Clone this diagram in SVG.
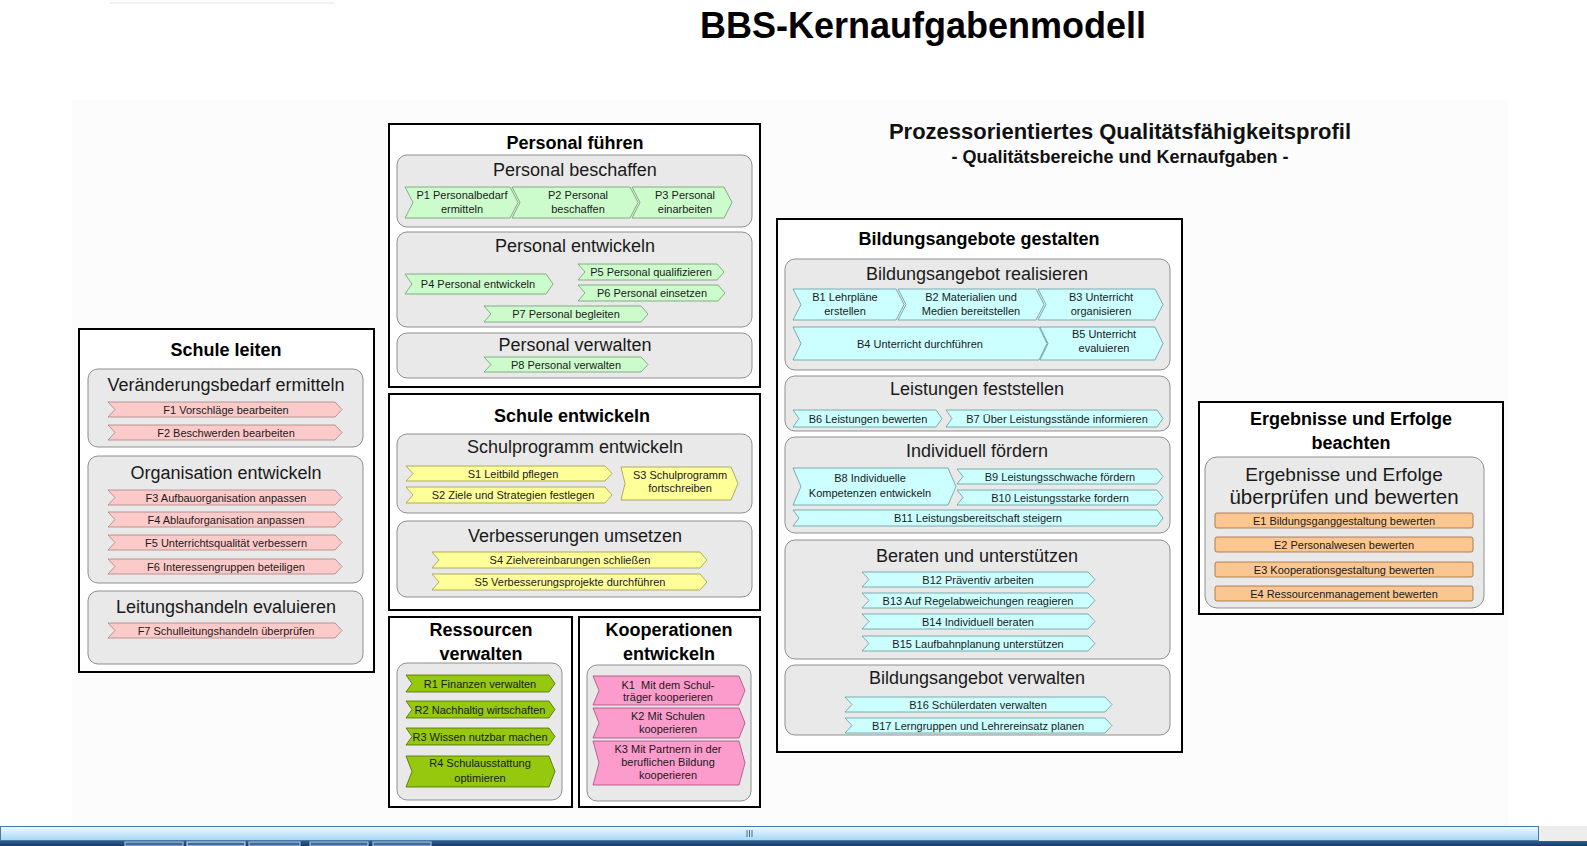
<svg xmlns="http://www.w3.org/2000/svg" width="1587" height="846" viewBox="0 0 1587 846">
<defs>
<style>
text{font-family:"Liberation Sans",Arial,sans-serif}
.ob{fill:#fff;stroke:#000;stroke-width:2}
.ib{fill:#e9e9e9;stroke:#8f8f8f;stroke-width:1}
.ot{font-size:18px;font-weight:bold;fill:#000;text-anchor:middle}
.it{font-size:18px;fill:#1a1a1a;text-anchor:middle}
.ct{font-size:11px;fill:#1a1a1a;text-anchor:middle}
.cF{fill:#fdcaca;stroke:#a88080;stroke-width:0.8}
.cP{fill:#ccfccc;stroke:#6f9a6f;stroke-width:0.8}
.cS{fill:#ffff99;stroke:#9a9a4a;stroke-width:0.8}
.cR{fill:#96c80e;stroke:#4d6b00;stroke-width:0.8}
.cK{fill:#fc9ccc;stroke:#a04c7c;stroke-width:0.8}
.cB{fill:#ccffff;stroke:#5f9a9c;stroke-width:0.8}
.cE{fill:#fbc690;stroke:#9c6a3a;stroke-width:0.8}
</style>
<linearGradient id="sb" x1="0" y1="0" x2="0" y2="1">
<stop offset="0" stop-color="#eef8fe"/>
<stop offset="0.5" stop-color="#cbe8fa"/>
<stop offset="1" stop-color="#a6d6f3"/>
</linearGradient>
<linearGradient id="tb" x1="0" y1="0" x2="0" y2="1">
<stop offset="0" stop-color="#2f5f92"/>
<stop offset="1" stop-color="#173a63"/>
</linearGradient>
</defs>

<rect x="0" y="0" width="1587" height="846" fill="#fff"/>
<rect x="72" y="100" width="1436" height="726" fill="#fcfcfc"/>
<line x1="110" y1="3" x2="335" y2="3" stroke="#e2e2e2" stroke-width="1"/>

<g id="title">
<text x="923" y="38" style="font-size:36px;font-weight:bold;text-anchor:middle;fill:#000">BBS-Kernaufgabenmodell</text>
<text x="1120" y="139" style="font-size:22px;font-weight:bold;text-anchor:middle;fill:#111">Prozessorientiertes Qualitätsfähigkeitsprofil</text>
<text x="1120" y="163" style="font-size:18px;font-weight:bold;text-anchor:middle;fill:#111">- Qualitätsbereiche und Kernaufgaben -</text>
</g>

<g id="connectors"></g>

<!-- Schule leiten -->
<g id="schule-leiten">
<rect class="ob" x="79" y="329" width="295" height="343"/>
<text class="ot" x="226" y="356">Schule leiten</text>
<g id="veraenderungsbedarf">
<rect class="ib" x="88" y="369" width="275" height="78" rx="10"/>
<text class="it" x="226" y="391">Veränderungsbedarf ermitteln</text>
<g id="F1"><polygon class="cF" points="108,402 335,402 342,409.5 335,417 108,417 115,409.5"/><text class="ct" x="226" y="413.5">F1 Vorschläge bearbeiten</text></g>
<g id="F2"><polygon class="cF" points="108,425 335,425 342,432.5 335,440 108,440 115,432.5"/><text class="ct" x="226" y="436.5">F2 Beschwerden bearbeiten</text></g>
</g>
<g id="organisation">
<rect class="ib" x="88" y="456" width="275" height="127" rx="10"/>
<text class="it" x="226" y="479">Organisation entwickeln</text>
<g id="F3"><polygon class="cF" points="108,490 335,490 342,497.5 335,505 108,505 115,497.5"/><text class="ct" x="226" y="501.5">F3 Aufbauorganisation anpassen</text></g>
<g id="F4"><polygon class="cF" points="108,512 335,512 342,519.5 335,527 108,527 115,519.5"/><text class="ct" x="226" y="523.5">F4 Ablauforganisation anpassen</text></g>
<g id="F5"><polygon class="cF" points="108,535 335,535 342,542.5 335,550 108,550 115,542.5"/><text class="ct" x="226" y="546.5">F5 Unterrichtsqualität verbessern</text></g>
<g id="F6"><polygon class="cF" points="108,559 335,559 342,566.5 335,574 108,574 115,566.5"/><text class="ct" x="226" y="570.5">F6 Interessengruppen beteiligen</text></g>
</g>
<g id="leitungshandeln">
<rect class="ib" x="88" y="591" width="275" height="73" rx="10"/>
<text class="it" x="226" y="613">Leitungshandeln evaluieren</text>
<g id="F7"><polygon class="cF" points="108,623 335,623 342,630.5 335,638 108,638 115,630.5"/><text class="ct" x="226" y="634.5">F7 Schulleitungshandeln überprüfen</text></g>
</g>
</g>

<!-- Personal führen -->
<g id="personal-fuehren">
<rect class="ob" x="389" y="124" width="371" height="263"/>
<text class="ot" x="575" y="149">Personal führen</text>
<g id="personal-beschaffen">
<rect class="ib" x="397" y="155" width="355" height="72" rx="10"/>
<text class="it" x="575" y="176">Personal beschaffen</text>
<g id="P1"><polygon class="cP" points="405,187 510,187 518,202.5 510,218 405,218 413,202.5"/><text class="ct" x="462" y="199">P1 Personalbedarf</text><text class="ct" x="462" y="213">ermitteln</text></g>
<g id="P2"><polygon class="cP" points="512,187 630,187 638,202.5 630,218 512,218 520,202.5"/><text class="ct" x="578" y="199">P2 Personal</text><text class="ct" x="578" y="213">beschaffen</text></g>
<g id="P3"><polygon class="cP" points="632,187 724,187 732,202.5 724,218 632,218 640,202.5"/><text class="ct" x="685" y="199">P3 Personal</text><text class="ct" x="685" y="213">einarbeiten</text></g>
</g>
<g id="personal-entwickeln">
<rect class="ib" x="397" y="232" width="355" height="95" rx="10"/>
<text class="it" x="575" y="252">Personal entwickeln</text>
<g id="P4"><polygon class="cP" points="405,274 546,274 553,284 546,294 405,294 412,284"/><text class="ct" x="478" y="288">P4 Personal entwickeln</text></g>
<g id="P5"><polygon class="cP" points="578,264 717,264 724,272 717,280 578,280 585,272"/><text class="ct" x="651" y="276">P5 Personal qualifizieren</text></g>
<g id="P6"><polygon class="cP" points="578,285 718,285 725,293 718,301 578,301 585,293"/><text class="ct" x="652" y="297">P6 Personal einsetzen</text></g>
<g id="P7"><polygon class="cP" points="484,306 641,306 648,314 641,322 484,322 491,314"/><text class="ct" x="566" y="318">P7 Personal begleiten</text></g>
</g>
<g id="personal-verwalten">
<rect class="ib" x="397" y="333" width="355" height="45" rx="10"/>
<text class="it" x="575" y="351">Personal verwalten</text>
<g id="P8"><polygon class="cP" points="484,357 641,357 648,364.5 641,372 484,372 491,364.5"/><text class="ct" x="566" y="368.5">P8 Personal verwalten</text></g>
</g>
</g>

<!-- Schule entwickeln -->
<g id="schule-entwickeln">
<rect class="ob" x="389" y="394" width="371" height="216"/>
<text class="ot" x="572" y="422">Schule entwickeln</text>
<g id="schulprogramm">
<rect class="ib" x="397" y="434" width="355" height="79" rx="10"/>
<text class="it" x="575" y="453">Schulprogramm entwickeln</text>
<g id="S1"><polygon class="cS" points="406,466 605,466 612,473.5 605,481 406,481 413,473.5"/><text class="ct" x="513" y="477.5">S1 Leitbild pflegen</text></g>
<g id="S2"><polygon class="cS" points="406,487 605,487 612,495 605,503 406,503 413,495"/><text class="ct" x="513" y="499">S2 Ziele und Strategien festlegen</text></g>
<g id="S3"><polygon class="cS" points="621,467 731,467 738,483.5 731,500 621,500 625,483.5"/><text class="ct" x="680" y="479">S3 Schulprogramm</text><text class="ct" x="680" y="492">fortschreiben</text></g>
</g>
<g id="verbesserungen">
<rect class="ib" x="397" y="521" width="355" height="76" rx="10"/>
<text class="it" x="575" y="542">Verbesserungen umsetzen</text>
<g id="S4"><polygon class="cS" points="432,552 700,552 707,560 700,568 432,568 439,560"/><text class="ct" x="570" y="564">S4 Zielvereinbarungen schließen</text></g>
<g id="S5"><polygon class="cS" points="432,574 700,574 707,582 700,590 432,590 439,582"/><text class="ct" x="570" y="586">S5 Verbesserungsprojekte durchführen</text></g>
</g>
</g>

<!-- Ressourcen verwalten -->
<g id="ressourcen-verwalten">
<rect class="ob" x="389" y="617" width="183" height="190"/>
<text class="ot" x="481" y="636">Ressourcen</text>
<text class="ot" x="481" y="660">verwalten</text>
<rect class="ib" x="397" y="663" width="165" height="137" rx="10"/>
<g id="R1"><polygon class="cR" points="406,675 549,675 555,683.5 549,692 406,692 412,683.5"/><text class="ct" x="480" y="687.5">R1 Finanzen verwalten</text></g>
<g id="R2"><polygon class="cR" points="406,701 549,701 555,709.5 549,718 406,718 412,709.5"/><text class="ct" x="480" y="713.5">R2 Nachhaltig wirtschaften</text></g>
<g id="R3"><polygon class="cR" points="406,728 549,728 555,736.5 549,745 406,745 412,736.5"/><text class="ct" x="480" y="740.5">R3 Wissen nutzbar machen</text></g>
<g id="R4"><polygon class="cR" points="406,756 549,756 555,771.5 549,787 406,787 412,771.5"/><text class="ct" x="480" y="767">R4 Schulausstattung</text><text class="ct" x="480" y="782">optimieren</text></g>
</g>

<!-- Kooperationen entwickeln -->
<g id="kooperationen-entwickeln">
<rect class="ob" x="579" y="617" width="181" height="190"/>
<text class="ot" x="669" y="636">Kooperationen</text>
<text class="ot" x="669" y="660">entwickeln</text>
<rect class="ib" x="587" y="665" width="164" height="136" rx="10"/>
<g id="K1"><polygon class="cK" points="593,676 739,676 745,690.5 739,705 593,705 599,690.5"/><text class="ct" x="668" y="689" xml:space="preserve">K1  Mit dem Schul-</text><text class="ct" x="668" y="701">träger kooperieren</text></g>
<g id="K2"><polygon class="cK" points="593,708 739,708 745,723 739,738 593,738 599,723"/><text class="ct" x="668" y="720">K2 Mit Schulen</text><text class="ct" x="668" y="733">kooperieren</text></g>
<g id="K3"><polygon class="cK" points="593,741 739,741 745,763 739,785 593,785 599,763"/><text class="ct" x="668" y="753">K3 Mit Partnern in der</text><text class="ct" x="668" y="766">beruflichen Bildung</text><text class="ct" x="668" y="779">kooperieren</text></g>
</g>

<!-- Bildungsangebote gestalten -->
<g id="bildungsangebote-gestalten">
<rect class="ob" x="777" y="219" width="405" height="533"/>
<text class="ot" x="979" y="245">Bildungsangebote gestalten</text>
<g id="bildungsangebot-realisieren">
<rect class="ib" x="785" y="259" width="385" height="111" rx="10"/>
<text class="it" x="977" y="280">Bildungsangebot realisieren</text>
<g id="B1"><polygon class="cB" points="793,289 896,289 904,304.5 896,320 793,320 801,304.5"/><text class="ct" x="845" y="301">B1 Lehrpläne</text><text class="ct" x="845" y="315">erstellen</text></g>
<g id="B2"><polygon class="cB" points="898,289 1036,289 1044,304.5 1036,320 898,320 906,304.5"/><text class="ct" x="971" y="301">B2 Materialien und</text><text class="ct" x="971" y="315">Medien bereitstellen</text></g>
<g id="B3"><polygon class="cB" points="1038,289 1155,289 1163,304.5 1155,320 1038,320 1046,304.5"/><text class="ct" x="1101" y="301">B3 Unterricht</text><text class="ct" x="1101" y="315">organisieren</text></g>
<g id="B4"><polygon class="cB" points="793,327 1039,327 1047,343.5 1039,360 793,360 801,343.5"/><text class="ct" x="920" y="347.5">B4 Unterricht durchführen</text></g>
<g id="B5"><polygon class="cB" points="1040,327 1155,327 1163,343.5 1155,360 1040,360 1048,343.5"/><text class="ct" x="1104" y="338">B5 Unterricht</text><text class="ct" x="1104" y="352">evaluieren</text></g>
</g>
<g id="leistungen-feststellen">
<rect class="ib" x="785" y="376" width="385" height="55" rx="10"/>
<text class="it" x="977" y="395">Leistungen feststellen</text>
<g id="B6"><polygon class="cB" points="793,410 936,410 942,418.5 936,427 793,427 799,418.5"/><text class="ct" x="868" y="422.5">B6 Leistungen bewerten</text></g>
<g id="B7"><polygon class="cB" points="946,410 1157,410 1163,418.5 1157,427 946,427 952,418.5"/><text class="ct" x="1057" y="422.5">B7 Über Leistungsstände informieren</text></g>
</g>
<g id="individuell-foerdern">
<rect class="ib" x="785" y="437" width="385" height="96" rx="10"/>
<text class="it" x="977" y="457">Individuell fördern</text>
<g id="B8"><polygon class="cB" points="793,468 948,468 956,486.5 948,505 793,505 801,486.5"/><text class="ct" x="870" y="482">B8 Individuelle</text><text class="ct" x="870" y="497">Kompetenzen entwickeln</text></g>
<g id="B9"><polygon class="cB" points="957,469 1157,469 1163,476.5 1157,484 957,484 963,476.5"/><text class="ct" x="1060" y="480.5">B9 Leistungsschwache fördern</text></g>
<g id="B10"><polygon class="cB" points="957,490 1157,490 1163,497.5 1157,505 957,505 963,497.5"/><text class="ct" x="1060" y="501.5">B10 Leistungsstarke fordern</text></g>
<g id="B11"><polygon class="cB" points="793,510 1157,510 1163,518 1157,526 793,526 799,518"/><text class="ct" x="978" y="522">B11 Leistungsbereitschaft steigern</text></g>
</g>
<g id="beraten-unterstuetzen">
<rect class="ib" x="785" y="540" width="385" height="119" rx="10"/>
<text class="it" x="977" y="562">Beraten und unterstützen</text>
<g id="B12"><polygon class="cB" points="862,572 1088,572 1095,579.5 1088,587 862,587 869,579.5"/><text class="ct" x="978" y="583.5">B12 Präventiv arbeiten</text></g>
<g id="B13"><polygon class="cB" points="862,593 1088,593 1095,600.5 1088,608 862,608 869,600.5"/><text class="ct" x="978" y="604.5">B13 Auf Regelabweichungen reagieren</text></g>
<g id="B14"><polygon class="cB" points="862,614 1088,614 1095,621.5 1088,629 862,629 869,621.5"/><text class="ct" x="978" y="625.5">B14 Individuell beraten</text></g>
<g id="B15"><polygon class="cB" points="862,636 1088,636 1095,643.5 1088,651 862,651 869,643.5"/><text class="ct" x="978" y="647.5">B15 Laufbahnplanung unterstützen</text></g>
</g>
<g id="bildungsangebot-verwalten">
<rect class="ib" x="785" y="665" width="385" height="70" rx="10"/>
<text class="it" x="977" y="684">Bildungsangebot verwalten</text>
<g id="B16"><polygon class="cB" points="845,697 1105,697 1112,704.5 1105,712 845,712 852,704.5"/><text class="ct" x="978" y="708.5">B16 Schülerdaten verwalten</text></g>
<g id="B17"><polygon class="cB" points="845,718 1105,718 1112,725.5 1105,733 845,733 852,725.5"/><text class="ct" x="978" y="729.5">B17 Lerngruppen und Lehrereinsatz planen</text></g>
</g>
</g>

<!-- Ergebnisse und Erfolge beachten -->
<g id="ergebnisse-beachten">
<rect class="ob" x="1199" y="402" width="304" height="212"/>
<text class="ot" x="1351" y="425">Ergebnisse und Erfolge</text>
<text class="ot" x="1351" y="449">beachten</text>
<g id="ergebnisse-bewerten">
<rect class="ib" x="1205" y="457" width="279" height="151" rx="12"/>
<text class="it" x="1344" y="481" style="font-size:19px">Ergebnisse und Erfolge</text>
<text class="it" x="1344" y="504" style="font-size:20.5px">überprüfen und bewerten</text>
<g id="E1"><rect class="cE" x="1215" y="513" width="258" height="15" rx="2"/><text class="ct" x="1344" y="524.5">E1 Bildungsganggestaltung bewerten</text></g>
<g id="E2"><rect class="cE" x="1215" y="537" width="258" height="15" rx="2"/><text class="ct" x="1344" y="548.5">E2 Personalwesen bewerten</text></g>
<g id="E3"><rect class="cE" x="1215" y="562" width="258" height="15" rx="2"/><text class="ct" x="1344" y="573.5">E3 Kooperationsgestaltung bewerten</text></g>
<g id="E4"><rect class="cE" x="1215" y="586" width="258" height="15" rx="2"/><text class="ct" x="1344" y="597.5">E4 Ressourcenmanagement bewerten</text></g>
</g>
</g>

<!-- window chrome at bottom -->
<g id="scrollbar">
<rect x="1539" y="826" width="48" height="15" fill="#ededed"/>
<rect x="0.5" y="826.5" width="1538" height="14" fill="url(#sb)" stroke="#4a79a8" stroke-width="1"/>
<line x1="747" y1="830" x2="747" y2="837" stroke="#3f6f9f"/>
<line x1="749.5" y1="830" x2="749.5" y2="837" stroke="#3f6f9f"/>
<line x1="752" y1="830" x2="752" y2="837" stroke="#3f6f9f"/>
</g>
<g id="taskbar">
<rect x="0" y="841" width="1587" height="5" fill="url(#tb)"/>
<rect x="125" y="842" width="58" height="4" fill="#3d6c9c" stroke="#b9cde2" stroke-width="1"/>
<rect x="187" y="842" width="58" height="4" fill="#3d6c9c" stroke="#dfe9f3" stroke-width="1"/>
<rect x="249" y="842" width="51" height="4" fill="#3d6c9c" stroke="#b9cde2" stroke-width="1"/>
<rect x="310" y="842" width="58" height="4" fill="#3d6c9c" stroke="#b9cde2" stroke-width="1"/>
<rect x="373" y="842" width="58" height="4" fill="#3d6c9c" stroke="#b9cde2" stroke-width="1"/>
</g>
</svg>
